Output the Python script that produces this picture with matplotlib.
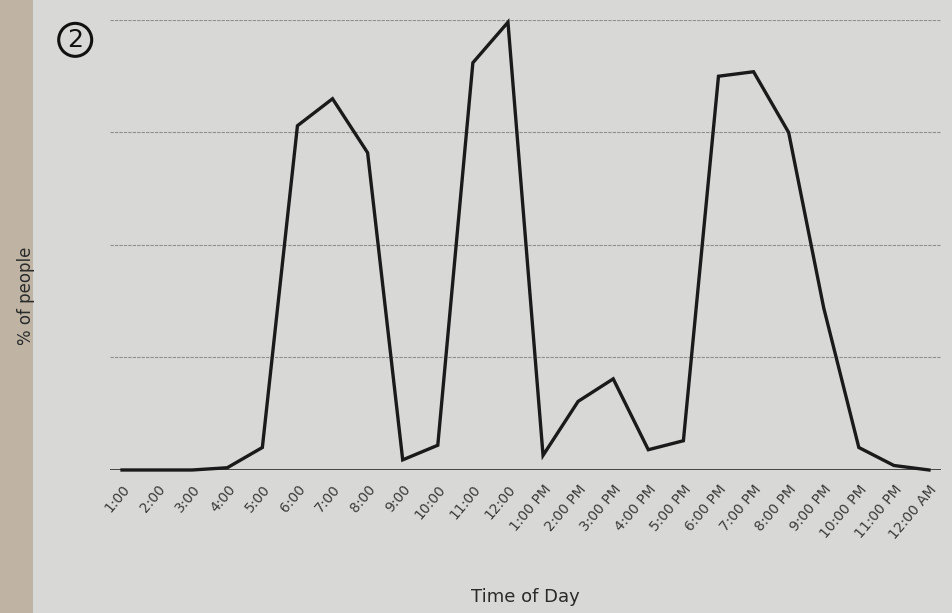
import matplotlib.pyplot as plt
from matplotlib.patches import Rectangle

# hours of the day, as printed on the axis
times = ["1:00", "2:00", "3:00", "4:00", "5:00", "6:00", "7:00", "8:00",
         "9:00", "10:00", "11:00", "12:00", "1:00 PM", "2:00 PM", "3:00 PM",
         "4:00 PM", "5:00 PM", "6:00 PM", "7:00 PM", "8:00 PM", "9:00 PM",
         "10:00 PM", "11:00 PM", "12:00 AM"]

# % of people (no y scale printed)
people = [0, 0, 0, 0.1, 1.0, 15.3, 16.5, 14.1, 0.45, 1.1, 18.1, 19.9,
          0.65, 3.05, 4.05, 0.9, 1.3, 17.5, 17.7, 15.0, 7.2, 1.0, 0.2, 0]

grid_levels = [5, 10, 15, 20]

fig = plt.figure(figsize=(9.52, 6.13), dpi=100, facecolor="#d8d8d6")

# darker strip of the page edge on the left
fig.patches.append(Rectangle((0, 0), 0.035, 1, transform=fig.transFigure,
                             facecolor="#bfb4a4", edgecolor="none", zorder=0))

ax = fig.add_axes([0.116, 0.2333, 0.872, 0.7341])
ax.set_facecolor("none")

x = list(range(len(times)))
ax.plot(x, people, color="#1a1a1a", linewidth=2.4, solid_joinstyle="miter",
        clip_on=False, zorder=3)

for g in grid_levels:
    ax.axhline(g, color="#8f8f8f", linewidth=0.8, linestyle=(0, (3, 1)), zorder=1)
ax.axhline(0, color="#1a1a1a", linewidth=1.8, zorder=2)

ax.set_xlim(-0.33, len(times) - 1 + 0.33)
ax.set_ylim(0, 20)
ax.set_yticks([])
ax.set_xticks(x)
ax.set_xticklabels(times, rotation=50, ha="right", rotation_mode="anchor",
                   fontsize=10, color="#3a3a3a")
ax.tick_params(axis="x", length=0, pad=9)
for s in ax.spines.values():
    s.set_visible(False)

ax.set_xlabel("Time of Day", fontsize=13, color="#2a2a2a", labelpad=33)
fig.text(0.027, 0.518, "% of people", rotation=90, fontsize=12,
         color="#2a2a2a", ha="center", va="center")

# handwritten circled number on the page
fig.text(0.079, 0.935, "2", fontsize=18, color="#111111", ha="center",
         va="center", bbox=dict(boxstyle="circle,pad=0.18", facecolor="none",
                                edgecolor="#111111", linewidth=2.2))

fig.savefig("out.png", dpi=100, facecolor=fig.get_facecolor())
